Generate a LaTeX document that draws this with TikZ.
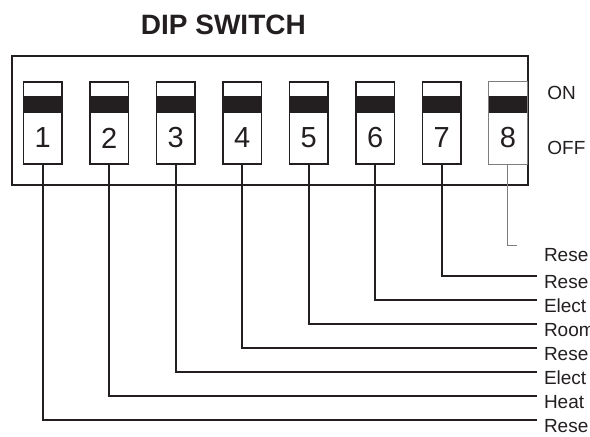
\documentclass[tikz,border=0pt]{standalone}
\usepackage{fontspec}
\setmainfont{Liberation Sans}
\usetikzlibrary{positioning}
\definecolor{inkBlack}{RGB}{35,31,32}
\definecolor{switchGrey}{RGB}{125,125,125}
\tikzset{
  housing/.style={draw=inkBlack, line width=0.8pt, minimum width=258.25pt, minimum height=64.75pt, inner sep=0pt},
  switchbox/.style={draw=inkBlack, line width=0.8pt, fill=white, minimum width=19.25pt, minimum height=41.25pt, inner sep=0pt,
    path picture={\fill[inkBlack] ([yshift=-7.1pt]path picture bounding box.north west) rectangle ([yshift=-15.6pt]path picture bounding box.north east);}},
  greyswitch/.style={switchbox, draw=switchGrey, line width=0.5pt},
  numlabel/.style={font=\fontsize{14.5}{17}\selectfont, text=inkBlack, inner sep=0pt},
  sidelabel/.style={font=\fontsize{9.5}{11}\selectfont, text=inkBlack, anchor=west, inner sep=0pt},
  lbl/.style={font=\fontsize{9.5}{11}\selectfont, text=inkBlack, anchor=west, inner xsep=3.3pt, inner ysep=1pt},
  wire/.style={draw=inkBlack, line width=0.8pt},
  greywire/.style={draw=switchGrey, line width=0.5pt}
}
\begin{document}
\begin{tikzpicture}[x=0.5pt,y=-0.5pt]
        \useasboundingbox (0,0) rectangle (590,436);
        \clip (0,0) rectangle (590,436);
        \node[font=\fontsize{14}{16}\selectfont\bfseries, text=inkBlack] (title) at (223.4,25) {DIP SWITCH};
        \node[housing] (dipbox) at (270,120.5) {};
        \node[switchbox] (s1) at (42.7,123) {};
        \node[switchbox, right=13.2pt of s1] (s2) {};
        \node[switchbox, right=13.2pt of s2] (s3) {};
        \node[switchbox, right=13.2pt of s3] (s4) {};
        \node[switchbox, right=13.2pt of s4] (s5) {};
        \node[switchbox, right=13.2pt of s5] (s6) {};
        \node[switchbox, right=13.2pt of s6] (s7) {};
        \node[greyswitch, right=13.2pt of s7] (s8) {};
        \node[numlabel] (n1) at ([yshift=-7.5pt]s1.center) {1};
        \node[numlabel] (n2) at ([yshift=-7.5pt]s2.center) {2};
        \node[numlabel] (n3) at ([yshift=-7.5pt]s3.center) {3};
        \node[numlabel] (n4) at ([yshift=-7.5pt]s4.center) {4};
        \node[numlabel] (n5) at ([yshift=-7.5pt]s5.center) {5};
        \node[numlabel] (n6) at ([yshift=-7.5pt]s6.center) {6};
        \node[numlabel] (n7) at ([yshift=-7.5pt]s7.center) {7};
        \node[numlabel] (n8) at ([yshift=-7.5pt]s8.center) {8};
        \node[sidelabel] (on) at (547,93.3) {ON};
        \node[sidelabel] (off) at (547,148.3) {OFF};
        % function labels, cut by the right edge
        \node[lbl] (l1) at (537,425.7) {Rese};
        \node[lbl, above=12pt of l1.west, anchor=west] (l2) {Heat};
        \node[lbl, above=12pt of l2.west, anchor=west] (l3) {Elect};
        \node[lbl, above=12pt of l3.west, anchor=west] (l4) {Rese};
        \node[lbl, above=12pt of l4.west, anchor=west] (l5) {Room};
        \node[lbl, above=12pt of l5.west, anchor=west] (l6) {Elect};
        \node[lbl, above=12pt of l6.west, anchor=west] (l7) {Rese};
        \node[lbl, above=13.5pt of l7.west, anchor=west] (l8) {Rese};
        \coordinate (c8) at (517,245.7);
        \draw[wire] (s1.south) |- ([yshift=3pt]l1.west);
        \draw[wire] (s2.south) |- ([yshift=3pt]l2.west);
        \draw[wire] (s3.south) |- ([yshift=3pt]l3.west);
        \draw[wire] (s4.south) |- ([yshift=3pt]l4.west);
        \draw[wire] (s5.south) |- ([yshift=3pt]l5.west);
        \draw[wire] (s6.south) |- ([yshift=3pt]l6.west);
        \draw[wire] (s7.south) |- ([yshift=3pt]l7.west);
        \draw[greywire] (s8.south) |- (c8);
      \end{tikzpicture}
\end{document}
